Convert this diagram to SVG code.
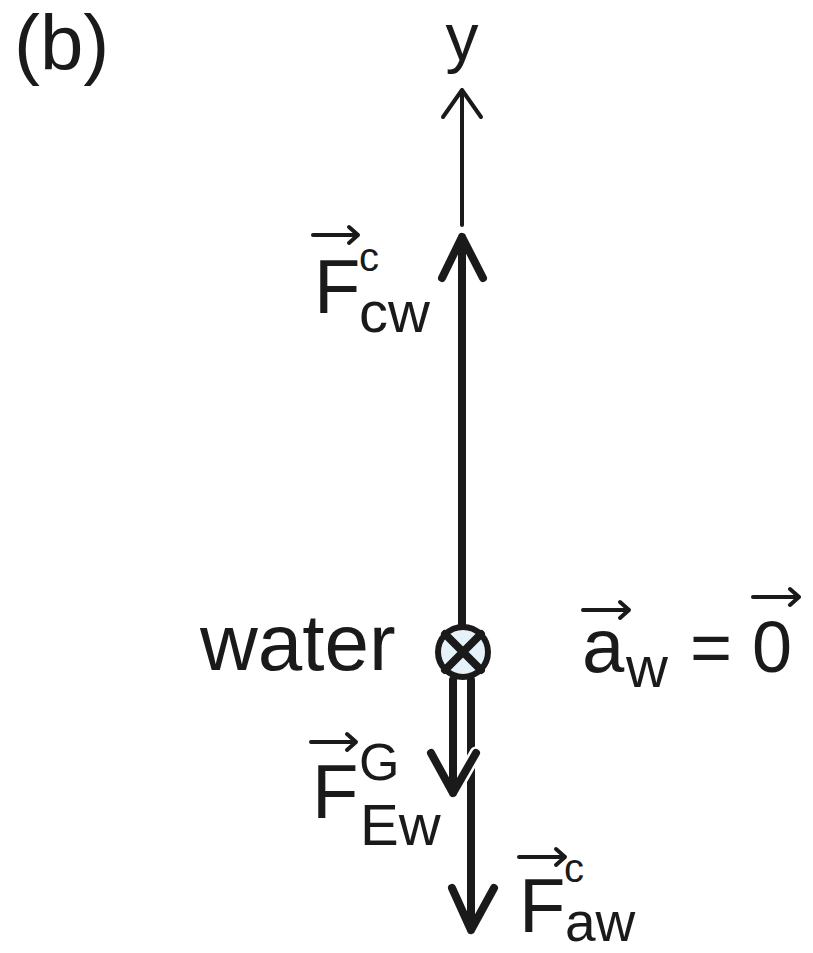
<svg xmlns="http://www.w3.org/2000/svg" width="813" height="953" viewBox="0 0 813 953">
<style>
text{font-family:"Liberation Sans","DejaVu Sans",sans-serif;fill:#1a1a1a}
.thick{stroke:#1a1a1a;stroke-width:8;fill:none;stroke-linecap:round;stroke-linejoin:round}
.thin{stroke:#1a1a1a;stroke-width:4;fill:none;stroke-linecap:round;stroke-linejoin:round}
.vec{stroke:#1a1a1a;stroke-width:4;fill:none;stroke-linecap:round;stroke-linejoin:round}
.halo{stroke:#fff;stroke-width:13;fill:none;stroke-linecap:round}
.big{font-size:76px}
.sup{font-size:40px}
.sub{font-size:58px}
</style>
<rect width="813" height="953" fill="#fff"/>
<g id="label-b"><text x="14" y="70" font-size="78">(b)</text></g>
<g id="axis-y">
<text x="462" y="60" font-size="66" text-anchor="middle">y</text>
<path class="thin" d="M462,225 V90 M443,117 L462,90 L481,117"/>
</g>
<g id="connectors">
<path id="F_aw" class="thick" d="M471,680 V930 M452,888 L471,930 L494,888"/>
<path class="halo" d="M476,753 L455,790"/>
<path id="F_Ew" class="thick" d="M453,680 V793 M431,753 L453,793 L476,753"/>
<path id="F_cw" class="thick" d="M462,626 V237 M442,278 L462,237 L483,278"/>
</g>
<g id="water">
<circle cx="463" cy="652" r="25" fill="#e6f2fa" stroke="#1a1a1a" stroke-width="6"/>
<path class="thick" stroke-width="5" d="M445,634 L481,670 M481,634 L445,670"/>
<text x="200" y="670" font-size="80">water</text>
</g>
<g id="label-Fcw">
<path class="vec" d="M313,235 H358 M349,227 L358,235 L349,243"/>
<text class="big" x="314" y="313">F</text>
<text class="sup" x="359" y="271">c</text>
<text class="sub" x="359" y="332">cw</text>
</g>
<g id="label-FEw">
<path class="vec" d="M311,742 H356 M347,734 L356,742 L347,750"/>
<text class="big" x="312" y="818">F</text>
<text x="359" y="780" font-size="52">G</text>
<text class="sub" x="360" y="845">Ew</text>
</g>
<g id="label-Faw">
<path class="vec" d="M519,857 H565 M556,849 L565,857 L556,865"/>
<text class="big" x="519" y="932">F</text>
<text class="sup" x="564" y="882">c</text>
<text x="565" y="941" font-size="55">aw</text>
</g>
<g id="label-aw">
<path class="vec" d="M583,610 H629 M620,602 L629,610 L620,618"/>
<text x="582" y="672" font-size="76">a</text>
<text class="sub" x="626" y="687">w</text>
<text x="690" y="672" font-size="72">=</text>
<path class="vec" d="M753,597 H799 M790,589 L799,597 L790,605"/>
<text x="752" y="672" font-size="72">0</text>
</g>
</svg>
